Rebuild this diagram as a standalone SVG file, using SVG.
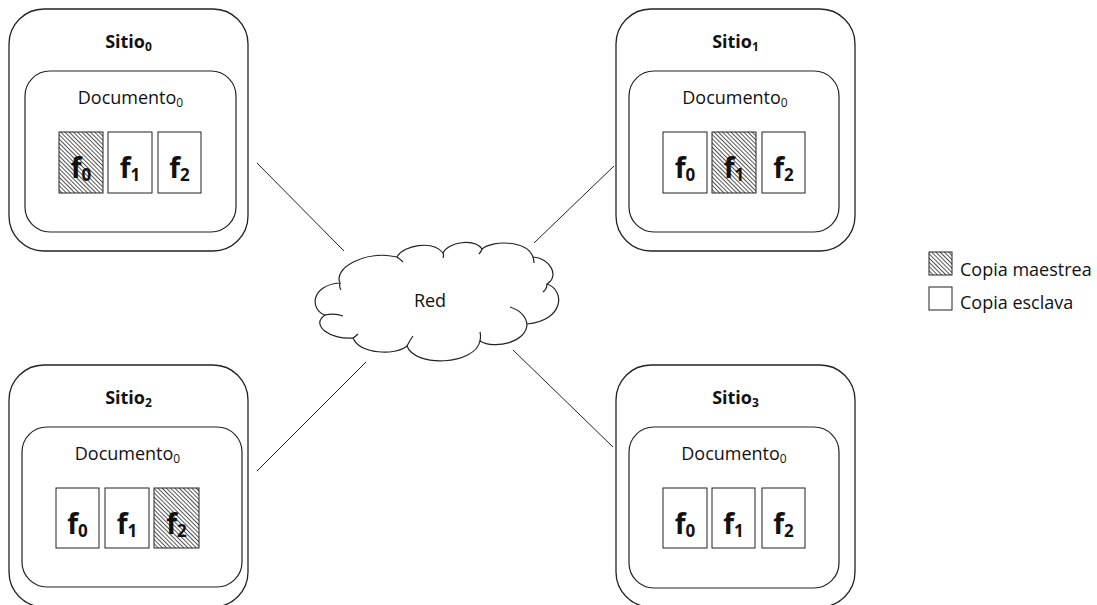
<svg xmlns="http://www.w3.org/2000/svg" width="1097" height="605" viewBox="0 0 1097 605">
<style>
.outer{fill:#fff;stroke:#222;stroke-width:1.3}
.inner{fill:#fff;stroke:#222;stroke-width:1.2}
.f{fill:#fff;stroke:#222;stroke-width:1}
.h{fill:url(#hatch);stroke:#222;stroke-width:1}
.t{font-family:"Open Sans","Liberation Sans",sans-serif;fill:#111}
.site{font-size:18px;font-weight:bold;text-anchor:middle}
.doc{font-size:18px;text-anchor:middle}
.fl{font-size:28px;font-weight:bold;text-anchor:middle}
.conn{stroke:#222;stroke-width:1;fill:none}
</style>
<defs>
<pattern id="hatch" width="3" height="3" patternUnits="userSpaceOnUse" patternTransform="rotate(-45)">
<rect width="3" height="3" fill="#fff"/>
<rect width="1" height="3" fill="#555"/>
</pattern>
</defs>
<rect width="1097" height="605" fill="#fff"/>
<g id="connectors">
<line class="conn" x1="257" y1="163" x2="344" y2="251"/>
<line class="conn" x1="534" y1="243" x2="614" y2="166"/>
<line class="conn" x1="366" y1="362" x2="257" y2="471"/>
<line class="conn" x1="513" y1="350" x2="613" y2="447"/>
</g>
<g id="sitio0">
<rect class="outer" x="9" y="9" width="239" height="242" rx="35"/>
<text class="t site" x="128.5" y="48">Sitio<tspan font-size="12" dy="3">0</tspan></text>
<rect class="inner" x="25" y="71" width="211" height="161" rx="25"/>
<text class="t doc" x="130.5" y="104">Documento<tspan font-size="12" dy="3">0</tspan></text>
<rect class="h" x="59" y="132" width="44" height="61"/>
<rect class="f" x="108" y="132" width="44" height="61"/>
<rect class="f" x="158" y="132" width="43" height="61"/>
<text class="t fl" x="81" y="178">f<tspan font-size="17" dy="3">0</tspan></text>
<text class="t fl" x="130" y="178">f<tspan font-size="17" dy="3">1</tspan></text>
<text class="t fl" x="179.5" y="178">f<tspan font-size="17" dy="3">2</tspan></text>
</g>
<g id="sitio1">
<rect class="outer" x="616" y="9" width="239" height="242" rx="35"/>
<text class="t site" x="735.5" y="48">Sitio<tspan font-size="12" dy="3">1</tspan></text>
<rect class="inner" x="629" y="71" width="210" height="161" rx="25"/>
<text class="t doc" x="735" y="104">Documento<tspan font-size="12" dy="3">0</tspan></text>
<rect class="f" x="663" y="132" width="44" height="61"/>
<rect class="h" x="712" y="132" width="44" height="61"/>
<rect class="f" x="762" y="132" width="43" height="61"/>
<text class="t fl" x="685" y="178">f<tspan font-size="17" dy="3">0</tspan></text>
<text class="t fl" x="734" y="178">f<tspan font-size="17" dy="3">1</tspan></text>
<text class="t fl" x="783.5" y="178">f<tspan font-size="17" dy="3">2</tspan></text>
</g>
<g id="sitio2">
<rect class="outer" x="9" y="365" width="239" height="242" rx="35"/>
<text class="t site" x="128.5" y="404">Sitio<tspan font-size="12" dy="3">2</tspan></text>
<rect class="inner" x="22" y="427" width="220" height="160" rx="25"/>
<text class="t doc" x="127.5" y="460">Documento<tspan font-size="12" dy="3">0</tspan></text>
<rect class="f" x="56" y="488" width="43" height="60"/>
<rect class="f" x="105" y="488" width="44" height="60"/>
<rect class="h" x="154" y="488" width="45" height="60"/>
<text class="t fl" x="77.5" y="534">f<tspan font-size="17" dy="3">0</tspan></text>
<text class="t fl" x="127" y="534">f<tspan font-size="17" dy="3">1</tspan></text>
<text class="t fl" x="176.5" y="534">f<tspan font-size="17" dy="3">2</tspan></text>
</g>
<g id="sitio3">
<rect class="outer" x="616" y="365" width="239" height="242" rx="35"/>
<text class="t site" x="735.5" y="404">Sitio<tspan font-size="12" dy="3">3</tspan></text>
<rect class="inner" x="629" y="427" width="210" height="161" rx="25"/>
<text class="t doc" x="734" y="460">Documento<tspan font-size="12" dy="3">0</tspan></text>
<rect class="f" x="663" y="488" width="44" height="60"/>
<rect class="f" x="712" y="488" width="43" height="60"/>
<rect class="f" x="762" y="488" width="43" height="60"/>
<text class="t fl" x="685" y="534">f<tspan font-size="17" dy="3">0</tspan></text>
<text class="t fl" x="733.5" y="534">f<tspan font-size="17" dy="3">1</tspan></text>
<text class="t fl" x="783.5" y="534">f<tspan font-size="17" dy="3">2</tspan></text>
</g>
<g id="red">
<path fill="#fff" stroke="#222" stroke-width="1.2" d="M340,283 C333,268 365,250 397,257 C403,245 433,240 443,253 C448,242 474,238 482,249 C492,240 527,240 533,257 C550,258 560,276 547,284 C565,290 565,320 527,324 C527,342 495,350 480,341 C475,365 415,368 407,346 C395,356 360,354 353,338 C330,340 310,325 325,315 C310,310 310,285 340,283 Z"/>
<path fill="none" stroke="#222" stroke-width="1.2" d="M340,283 Q339,287 341,290 M325,315 Q335,313 343,316 M353,338 Q356,336 358,334 M407,346 Q410,340 413,336 M480,341 Q481,336 480,332 M510,307 Q525,312 527,324 M547,284 Q547,289 543,292 M533,257 Q534,260 534,263 M482,249 Q481,252 479,254 M443,253 Q444,256 443,258 M397,257 Q400,259 403,262"/>
<text class="t" x="430" y="307" font-size="18" text-anchor="middle">Red</text>
</g>
<g id="legend">
<rect class="h" x="929" y="252" width="23" height="23"/>
<text class="t" x="960" y="276" font-size="18">Copia maestrea</text>
<rect class="f" x="929" y="287" width="23" height="23"/>
<text class="t" x="960" y="309" font-size="18">Copia esclava</text>
</g>
</svg>
